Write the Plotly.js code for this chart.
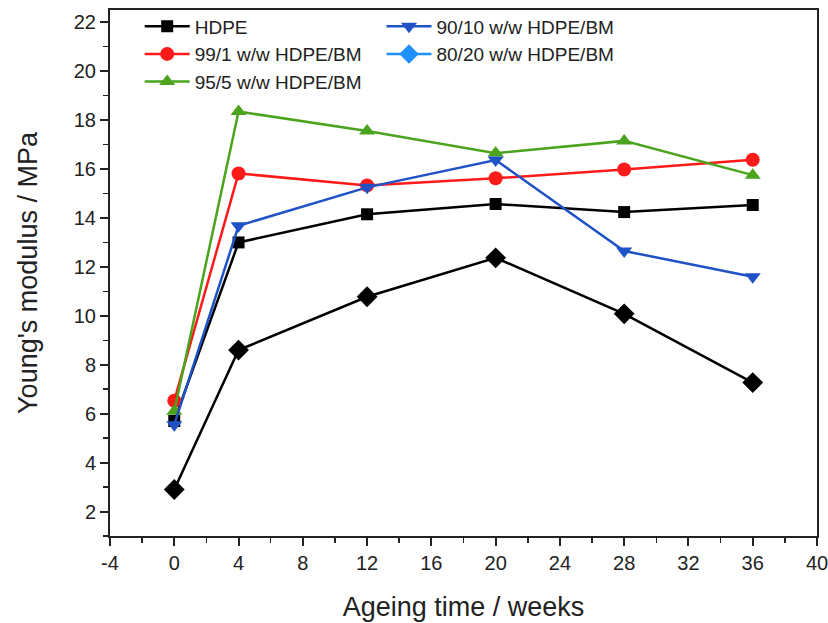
<!DOCTYPE html>
<html>
<head>
<meta charset="utf-8">
<script src="https://cdn.plot.ly/plotly-3.0.1.min.js"></script>
<style>html,body{margin:0;padding:0;background:#fff;}#chart{width:828px;height:623px;}</style>
</head>
<body>
<div id="chart"></div>
<script>
const weeks = [0, 4, 12, 20, 28, 36];
const hdpe = [5.7, 13.0, 14.15, 14.57, 14.24, 14.53];
const hdpe99 = [6.53, 15.82, 15.33, 15.62, 15.98, 16.38];
const hdpe95 = [6.1, 18.35, 17.55, 16.65, 17.15, 15.75];
const hdpe90 = [5.55, 13.68, 15.25, 16.37, 12.65, 11.6];
const hdpe80 = [2.9, 8.6, 10.78, 12.37, 10.08, 7.27];
const names = ["HDPE", "99/1 w/w HDPE/BM", "95/5 w/w HDPE/BM", "90/10 w/w HDPE/BM", "80/20 w/w HDPE/BM"];
const xTickVals = [-4, 0, 4, 8, 12, 16, 20, 24, 28, 32, 36, 40];
const xTickText = ["-4", "0", "4", "8", "12", "16", "20", "24", "28", "32", "36", "40"];

function tr(name, y, color, symbol, size, extra) {
  return Object.assign({
    type: 'scatter', mode: 'lines+markers', name: name, x: weeks, y: y,
    line: {color: color, width: 2.5},
    marker: {color: color, symbol: symbol, size: size}
  }, extra || {});
}

const data = [
  tr(names[0], hdpe, '#000000', 'square', 12),
  tr(names[1], hdpe99, '#ff1a1a', 'circle', 14),
  tr(names[2], hdpe95, '#4aa41e', 'triangle-up', 14),
  tr(names[3], hdpe90, '#1f52c6', 'triangle-down', 14, {legend: 'legend2'}),
  tr(names[4], [null], '#1e90ff', 'diamond', 15, {x: [null], legend: 'legend2'}),
  tr(names[4], hdpe80, '#000000', 'diamond', 16, {showlegend: false})
];

const FAM = 'Liberation Sans, Arial, sans-serif';
const tickFont = {family: FAM, size: 20, color: '#222'};
const legFont = {family: FAM, size: 19, color: '#222'};
const layout = {
  width: 828, height: 623,
  margin: {l: 110, r: 11, t: 10, b: 87, autoexpand: false},
  paper_bgcolor: '#fff', plot_bgcolor: '#fff',
  font: tickFont,
  showlegend: true,
  legend: {
    orientation: 'v', x: 0.042, y: 1.005, xanchor: 'left', yanchor: 'top',
    itemwidth: 45, font: legFont, bgcolor: 'rgba(0,0,0,0)', traceorder: 'normal'
  },
  legend2: {
    orientation: 'v', x: 0.384, y: 1.005, xanchor: 'left', yanchor: 'top',
    itemwidth: 45, font: legFont, bgcolor: 'rgba(0,0,0,0)', traceorder: 'normal'
  },
  xaxis: {
    range: [-4, 40], tickmode: 'array', tickvals: xTickVals, ticktext: xTickText,
    showgrid: false, zeroline: false,
    showline: true, linecolor: '#222', linewidth: 2, mirror: true,
    ticks: 'outside', ticklen: 8, tickwidth: 2, tickcolor: '#222',
    minor: {dtick: 2, tick0: 0, ticks: 'outside', ticklen: 5, tickwidth: 1.5, tickcolor: '#222', showgrid: false},
    tickfont: tickFont, ticklabeloverflow: 'allow',
    title: {text: 'Ageing time / weeks', font: {family: FAM, size: 27, color: '#222'}, standoff: 24}
  },
  yaxis: {
    range: [1, 22.5], dtick: 2, tick0: 0,
    showgrid: false, zeroline: false,
    showline: true, linecolor: '#222', linewidth: 2, mirror: true,
    ticks: 'outside', ticklen: 8, tickwidth: 2, tickcolor: '#222',
    minor: {dtick: 1, ticks: 'outside', ticklen: 5, tickwidth: 1.5, tickcolor: '#222', showgrid: false},
    tickfont: tickFont, ticklabeloverflow: 'allow',
    title: {text: "Young's modulus / MPa", font: {family: FAM, size: 27, color: '#222'}, standoff: 28}
  }
};

Plotly.newPlot('chart', data, layout, {displayModeBar: false, staticPlot: true});
</script>
</body>
</html>
